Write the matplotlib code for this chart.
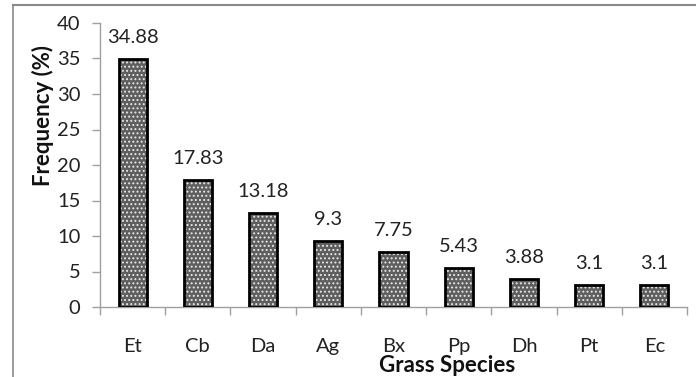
import matplotlib
matplotlib.use("Agg")
import matplotlib.pyplot as plt
from matplotlib.lines import Line2D
import numpy as np

species = ["Et", "Cb", "Da", "Ag", "Bx", "Pp", "Dh", "Pt", "Ec"]
frequency = [34.88, 17.83, 13.18, 9.3, 7.75, 5.43, 3.88, 3.1, 3.1]
value_labels = ["34.88", "17.83", "13.18", "9.3", "7.75", "5.43", "3.88", "3.1", "3.1"]
y_ticks = [0, 5, 10, 15, 20, 25, 30, 35, 40]

plt.rcParams["font.family"] = ["Lato", "DejaVu Sans"]
plt.rcParams["hatch.linewidth"] = 0.9

W, H = 696, 377
fig = plt.figure(figsize=(W / 100, H / 100), dpi=100)
ax = fig.add_axes([100 / W, 1 - 307 / H, (687 - 100) / W, (307 - 23) / H])

x = np.arange(len(species))
width = 0.43
# patterned fill, then a heavy black outline on top
ax.bar(x, frequency, width=width, color="#5e5e5e", edgecolor="#e8e8e8",
       hatch="....", linewidth=0, zorder=2)
ax.bar(x, frequency, width=width, fill=False, edgecolor="black",
       linewidth=2.0, zorder=3)

for xi, v, lab in zip(x, frequency, value_labels):
    ax.annotate(lab, (xi, v), xytext=(0, 11.5), textcoords="offset points",
                ha="center", va="baseline", fontsize=14.5, color="#222222")

ax.set_xlim(-0.5, len(species) - 0.5)
ax.set_ylim(0, 40)
ax.set_yticks(y_ticks)
ax.set_xticks(x)
ax.set_xticklabels(species)
ax.set_xticks(np.arange(-0.5, len(species)), minor=True)
ax.tick_params(axis="x", which="major", length=0, pad=22, labelsize=14.5,
               labelcolor="#222222")
ax.tick_params(axis="x", which="minor", length=6, width=1, color="#a0a0a0",
               direction="out")
ax.tick_params(axis="y", length=6, width=1, color="#a0a0a0", direction="out",
               pad=8, labelsize=14.5, labelcolor="#222222")

for s in ("top", "right"):
    ax.spines[s].set_visible(False)
for s in ("left", "bottom"):
    ax.spines[s].set_color("#a0a0a0")
    ax.spines[s].set_linewidth(1)

fig.text(43 / W, 1 - 115 / H, "Frequency (%)", rotation=90, ha="center",
         va="center", fontsize=16, fontweight="bold", color="#111111")
fig.text(447 / W, 1 - 366 / H, "Grass Species", ha="center", va="center",
         fontsize=16, fontweight="bold", color="#111111")

# outer chart frame
fig.add_artist(Line2D([12.5 / W, 1], [1 - 4.5 / H, 1 - 4.5 / H],
                      transform=fig.transFigure, color="#8a8a8a", lw=1.5))
fig.add_artist(Line2D([12.5 / W, 12.5 / W], [0, 1 - 4.5 / H],
                      transform=fig.transFigure, color="#8a8a8a", lw=1.2))

fig.savefig("out.png", dpi=100)
